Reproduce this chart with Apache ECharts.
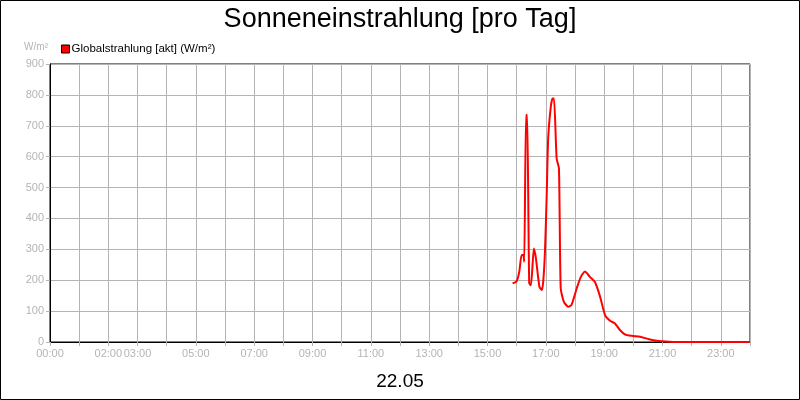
<!DOCTYPE html>
<html>
<head>
<meta charset="utf-8">
<script src="https://cdn.jsdelivr.net/npm/echarts@6/dist/echarts.min.js"></script>
<style>
  html, body { margin: 0; padding: 0; background: #fff; }
  #chart { width: 800px; height: 400px; }
</style>
</head>
<body>
<div id="chart"></div>
<script>
// Uhrzeit in Stunden (dezimal) und Globalstrahlung in W/m²
const hours = [15.86, 16.0, 16.09, 16.17, 16.23, 16.26, 16.32, 16.36, 16.43, 16.49, 16.59, 16.66,
  16.78, 16.86, 16.91, 16.97, 17.03, 17.08, 17.17, 17.23, 17.28, 17.37, 17.45, 17.51, 17.62,
  17.77, 17.88, 18.06, 18.2, 18.34, 18.51, 18.68, 18.86, 19.03, 19.2, 19.37, 19.54, 19.71,
  19.94, 20.23, 20.51, 20.8, 21.08, 21.5, 22.0, 23.0, 24.0];
const radiation = [190, 197, 228, 282, 282, 260, 735, 735, 190, 184, 303, 271,
  179, 168, 195, 292, 476, 659, 761, 788, 788, 594, 562, 174, 130,
  114, 120, 174, 211, 228, 211, 195, 147, 87, 69, 60, 39, 25,
  20, 17, 10, 4, 2, 0, 0, 0, 0];
// beschriftete Stunden an der x-Achse
const labelHours = [0, 2, 3, 5, 7, 9, 11, 13, 15, 17, 19, 21, 23];

const gray = '#b4b4b4';
const font = 'Liberation Sans, Arial, sans-serif';

const chart = echarts.init(document.getElementById('chart'));
const option = {
  animation: false,
  textStyle: { fontFamily: font },
  title: [
    {
      text: 'Sonneneinstrahlung [pro Tag]',
      left: 'center', top: 1,
      textStyle: { fontSize: 27, fontWeight: 'normal', color: '#000', fontFamily: font }
    },
    {
      text: '22.05',
      left: 'center', top: 367,
      textStyle: { fontSize: 19, fontWeight: 'normal', color: '#000', fontFamily: font }
    }
  ],
  legend: {
    left: 56, top: 38,
    icon: 'rect', itemWidth: 8, itemHeight: 8, itemGap: 4,
    itemStyle: { borderColor: '#000', borderWidth: 1 },
    textStyle: { fontSize: 11.5, color: '#000', padding: [0, 0, 0, -3] },
    data: ['Globalstrahlung [akt] (W/m²)']
  },
  graphic: [{
    type: 'rect',
    shape: { x: 0.5, y: 0.5, width: 799, height: 399 },
    style: { fill: 'none', stroke: '#000', lineWidth: 1 },
    silent: true
  }],
  grid: {
    left: 50, right: 50, top: 64, bottom: 58,
    show: true, borderColor: '#000', borderWidth: 1
  },
  xAxis: {
    type: 'value', min: 0, max: 24, interval: 1,
    axisLine: { lineStyle: { color: '#000', width: 1 } },
    axisTick: { length: 4, lineStyle: { color: gray } },
    splitLine: { lineStyle: { color: gray } },
    axisLabel: {
      color: gray, fontSize: 11, margin: 6,
      formatter: function (v) {
        if (labelHours.indexOf(v) < 0) return '';
        return (v < 10 ? '0' : '') + v + ':00';
      }
    }
  },
  yAxis: {
    type: 'value', min: 0, max: 900, interval: 100,
    name: 'W/m²',
    nameGap: 12,
    nameTextStyle: { color: gray, fontSize: 10, align: 'right', padding: [0, 2, 0, 0] },
    axisLine: { show: true, lineStyle: { color: '#000', width: 1 } },
    axisTick: { show: true, length: 4, lineStyle: { color: gray } },
    splitLine: { lineStyle: { color: gray } },
    axisLabel: { color: gray, fontSize: 11, margin: 6 }
  },
  series: [{
    name: 'Globalstrahlung [akt] (W/m²)',
    type: 'line',
    data: hours.map(function (h, i) { return [h, radiation[i]]; }),
    showSymbol: false,
    smooth: 0.2,
    lineStyle: { color: '#ff0000', width: 2 },
    itemStyle: { color: '#ff0000' }
  }]
};
chart.setOption(option);
</script>
</body>
</html>
